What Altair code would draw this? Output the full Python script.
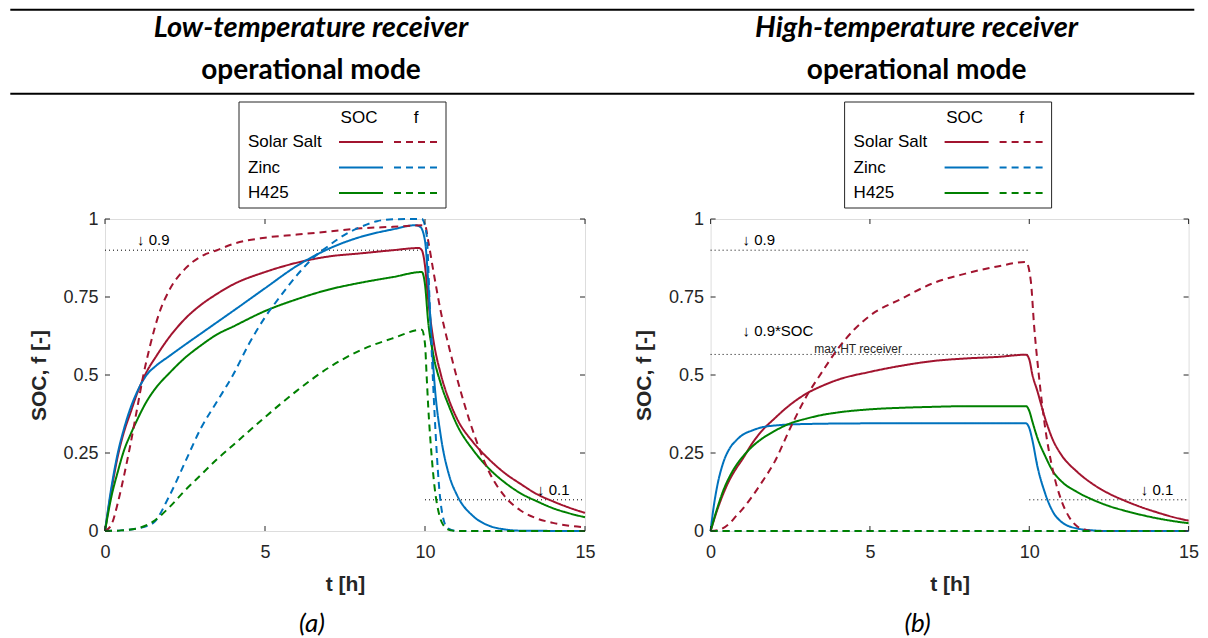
import altair as alt
import pandas as pd

# ---------------- data ----------------
SERIES = ["Solar Salt", "Zinc", "H425"]
COLORS = ["#A2142F", "#0072BD", "#008000"]
X_TICKS = [0, 5, 10, 15]
Y_TICKS = [0, 0.25, 0.5, 0.75, 1]

# Low-temperature receiver (a)
lt_ss_soc_t = [0, 0.2, 0.4, 0.6, 0.8, 1.0, 1.3, 1.6, 2.0, 2.5, 3.0, 3.5, 4.0, 5.0, 6.0, 7.0, 8.0, 9.0, 9.8, 9.9, 10.0, 10.1, 10.25, 10.5, 10.75, 11.0, 11.5, 12.0, 12.5, 13.0, 13.5, 14.0, 14.5, 15.0]
lt_ss_soc_v = [0, 0.13, 0.24, 0.32, 0.38, 0.44, 0.51, 0.56, 0.62, 0.68, 0.725, 0.76, 0.79, 0.83, 0.86, 0.88, 0.89, 0.9, 0.907, 0.9, 0.85, 0.74, 0.62, 0.5, 0.42, 0.36, 0.285, 0.23, 0.185, 0.15, 0.118, 0.095, 0.075, 0.058]

lt_zn_soc_t = [0, 0.2, 0.4, 0.6, 0.8, 1.0, 1.3, 1.6, 2.0, 2.5, 3.0, 3.5, 4.0, 5.0, 6.0, 7.0, 8.0, 9.0, 9.7, 9.85, 10.0, 10.1, 10.2, 10.3, 10.5, 10.75, 11.0, 11.5, 12.0, 12.5, 13.0, 15.0]
lt_zn_soc_v = [0, 0.14, 0.25, 0.33, 0.395, 0.445, 0.5, 0.53, 0.56, 0.597, 0.633, 0.669, 0.705, 0.778, 0.85, 0.905, 0.943, 0.967, 0.98, 0.975, 0.93, 0.8, 0.62, 0.47, 0.3, 0.18, 0.115, 0.048, 0.017, 0.005, 0.001, 0]

lt_h4_soc_t = [0, 0.2, 0.4, 0.6, 0.8, 1.0, 1.3, 1.6, 2.0, 2.5, 3.0, 3.5, 4.0, 5.0, 6.0, 7.0, 8.0, 9.0, 9.9, 10.0, 10.1, 10.25, 10.5, 10.75, 11.0, 11.5, 12.0, 12.5, 13.0, 13.5, 14.0, 14.5, 15.0]
lt_h4_soc_v = [0, 0.11, 0.19, 0.26, 0.31, 0.355, 0.415, 0.46, 0.505, 0.555, 0.595, 0.63, 0.655, 0.705, 0.743, 0.774, 0.796, 0.814, 0.83, 0.79, 0.67, 0.57, 0.47, 0.4, 0.34, 0.26, 0.2, 0.155, 0.12, 0.095, 0.073, 0.057, 0.044]

lt_ss_f_t = [0, 0.2, 0.4, 0.6, 0.8, 1.0, 1.2, 1.4, 1.7, 2.0, 2.5, 3.0, 3.5, 4.0, 5.0, 6.0, 7.0, 8.0, 9.0, 10.0, 10.1, 10.25, 10.5, 10.75, 11.0, 11.5, 12.0, 12.5, 13.0, 13.5, 14.0, 14.5, 15.0]
lt_ss_f_v = [0, 0.02, 0.09, 0.18, 0.28, 0.39, 0.5, 0.59, 0.7, 0.77, 0.84, 0.88, 0.9, 0.92, 0.94, 0.95, 0.96, 0.97, 0.975, 0.98, 0.93, 0.84, 0.7, 0.59, 0.49, 0.32, 0.19, 0.11, 0.065, 0.04, 0.026, 0.017, 0.012]

lt_zn_f_t = [0, 0.5, 1.0, 1.5, 2.0, 2.5, 3.0, 3.5, 4.0, 4.5, 5.0, 5.5, 6.0, 6.5, 7.0, 7.5, 8.0, 8.5, 9.0, 9.9, 10.05, 10.15, 10.25, 10.35, 10.45, 10.55, 10.7, 11.0, 15.0]
lt_zn_f_v = [0, 0.002, 0.008, 0.025, 0.11, 0.22, 0.33, 0.415, 0.5, 0.6, 0.685, 0.755, 0.82, 0.875, 0.915, 0.95, 0.975, 0.993, 0.999, 1.0, 0.95, 0.72, 0.48, 0.28, 0.13, 0.05, 0.01, 0, 0]

lt_h4_f_t = [0, 0.5, 1.0, 1.5, 2.0, 2.5, 3.0, 3.5, 4.0, 5.0, 6.0, 7.0, 8.0, 9.0, 9.9, 10.0, 10.05, 10.1, 10.2, 10.3, 10.45, 10.6, 10.8, 11.0, 15.0]
lt_h4_f_v = [0, 0.002, 0.008, 0.03, 0.075, 0.13, 0.18, 0.23, 0.275, 0.365, 0.45, 0.524, 0.58, 0.618, 0.645, 0.6, 0.5, 0.4, 0.25, 0.14, 0.05, 0.015, 0.002, 0, 0]

# High-temperature receiver (b)
ht_ss_soc_t = [0, 0.2, 0.4, 0.6, 0.8, 1.0, 1.3, 1.6, 2.0, 2.5, 3.0, 3.5, 4.0, 5.0, 6.0, 7.0, 8.0, 9.0, 9.9, 10.0, 10.1, 10.25, 10.5, 10.75, 11.0, 11.5, 12.0, 12.5, 13.0, 13.5, 14.0, 14.5, 15.0]
ht_ss_soc_v = [0, 0.065, 0.12, 0.165, 0.2, 0.23, 0.28, 0.32, 0.36, 0.405, 0.44, 0.465, 0.485, 0.51, 0.53, 0.545, 0.553, 0.558, 0.565, 0.55, 0.5, 0.45, 0.36, 0.29, 0.245, 0.19, 0.15, 0.12, 0.097, 0.077, 0.06, 0.045, 0.033]

ht_zn_soc_t = [0, 0.1, 0.2, 0.4, 0.6, 0.8, 1.0, 1.3, 1.6, 2.0, 3.0, 5.0, 9.9, 10.0, 10.1, 10.25, 10.5, 10.75, 11.0, 11.5, 12.0, 12.5, 15.0]
ht_zn_soc_v = [0, 0.08, 0.14, 0.22, 0.265, 0.29, 0.308, 0.322, 0.332, 0.338, 0.343, 0.345, 0.345, 0.33, 0.29, 0.21, 0.12, 0.06, 0.03, 0.008, 0.002, 0, 0]

ht_h4_soc_t = [0, 0.2, 0.4, 0.6, 0.8, 1.0, 1.3, 1.6, 2.0, 2.5, 3.0, 3.5, 4.0, 5.0, 6.0, 7.0, 8.0, 9.9, 10.0, 10.1, 10.25, 10.5, 10.75, 11.0, 11.5, 12.0, 12.5, 13.0, 13.5, 14.0, 14.5, 15.0]
ht_h4_soc_v = [0, 0.07, 0.13, 0.175, 0.21, 0.237, 0.27, 0.295, 0.32, 0.345, 0.36, 0.372, 0.38, 0.39, 0.395, 0.398, 0.4, 0.4, 0.385, 0.35, 0.3, 0.24, 0.19, 0.16, 0.125, 0.1, 0.08, 0.065, 0.052, 0.041, 0.032, 0.025]

ht_ss_f_t = [0, 0.3, 0.6, 0.8, 1.0, 1.3, 1.6, 2.0, 2.5, 3.0, 3.5, 4.0, 4.5, 5.0, 6.0, 7.0, 8.0, 9.0, 9.9, 10.05, 10.15, 10.3, 10.5, 10.75, 11.0, 11.25, 11.5, 11.75, 12.0, 15.0]
ht_ss_f_v = [0, 0.005, 0.025, 0.048, 0.07, 0.11, 0.155, 0.22, 0.33, 0.43, 0.51, 0.585, 0.645, 0.69, 0.745, 0.795, 0.825, 0.848, 0.862, 0.8, 0.66, 0.5, 0.33, 0.19, 0.1, 0.045, 0.015, 0.004, 0, 0]

ht_zn_f_t = [0, 15]
ht_zn_f_v = [0, 0]
ht_h4_f_t = [0, 15]
ht_h4_f_v = [0, 0]

HT_SOC_LIMIT = 0.566  # 0.9*SOC max,HT receiver

PANELS = {
    "a": [
        ("Solar Salt", "SOC", lt_ss_soc_t, lt_ss_soc_v),
        ("Zinc", "SOC", lt_zn_soc_t, lt_zn_soc_v),
        ("H425", "SOC", lt_h4_soc_t, lt_h4_soc_v),
        ("Solar Salt", "f", lt_ss_f_t, lt_ss_f_v),
        ("Zinc", "f", lt_zn_f_t, lt_zn_f_v),
        ("H425", "f", lt_h4_f_t, lt_h4_f_v),
    ],
    "b": [
        ("Solar Salt", "SOC", ht_ss_soc_t, ht_ss_soc_v),
        ("Zinc", "SOC", ht_zn_soc_t, ht_zn_soc_v),
        ("H425", "SOC", ht_h4_soc_t, ht_h4_soc_v),
        ("Solar Salt", "f", ht_ss_f_t, ht_ss_f_v),
        ("Zinc", "f", ht_zn_f_t, ht_zn_f_v),
        ("H425", "f", ht_h4_f_t, ht_h4_f_v),
    ],
}

# ---------------- styling ----------------
H = 312
AXC = "#262626"
SANS = "Liberation Sans"
HEAD = "Lato"
ONE = pd.DataFrame({"k": [0]})


def series_df(key):
    rows = []
    for i, (s, var, ts, vs) in enumerate(PANELS[key]):
        for t, v in zip(ts, vs):
            rows.append({"series": s, "var": var, "key": f"{i}", "t": t, "v": v})
    return pd.DataFrame(rows)


def txt(s, x, y, size=15, weight="normal", style="normal", font=SANS, align="left", color="black"):
    return alt.Chart(ONE).mark_text(
        text=s, fontSize=size, fontWeight=weight, fontStyle=style, font=font,
        align=align, baseline="middle", color=color,
    ).encode(x=alt.value(x), y=alt.value(y))


def hline(x1, x2, y, width=1, dash=None, color="black"):
    kw = dict(strokeWidth=width, color=color)
    if dash:
        kw["strokeDash"] = dash
    return alt.Chart(ONE).mark_rule(**kw).encode(x=alt.value(x1), x2=alt.value(x2), y=alt.value(y))


def panel(key, W, title1, caption, first):
    df = series_df(key)
    xs = alt.Scale(domain=[0, 15], nice=False)
    ys = alt.Scale(domain=[0, 1], nice=False)
    xax = alt.Axis(values=X_TICKS, format=".2~f", ticks=False, domain=False, grid=False,
                   labelFont=SANS, labelFontSize=18, labelColor=AXC, labelBaseline="middle",
                   labelPadding=21, labelFlush=False,
                   title="t [h]", titleFont=SANS, titleFontSize=21, titleFontWeight="bold",
                   titleColor=AXC, titleX=W / 2, titleY=53, titleBaseline="middle")
    yax = alt.Axis(values=Y_TICKS, format=".2~f", ticks=False, domain=False, grid=False,
                   labelFont=SANS, labelFontSize=18, labelColor=AXC, labelPadding=7,
                   labelFlush=False,
                   title="SOC, f [-]", titleFont=SANS, titleFontSize=21, titleFontWeight="bold",
                   titleColor=AXC, titleX=-66, titleY=H / 2, titleAngle=270,
                   titleBaseline="middle")

    lines = alt.Chart(df).mark_line(strokeWidth=2, interpolate="monotone").encode(
        x=alt.X("t:Q", scale=xs, axis=xax),
        y=alt.Y("v:Q", scale=ys, axis=yax),
        color=alt.Color("series:N", scale=alt.Scale(domain=SERIES, range=COLORS), legend=None),
        strokeDash=alt.StrokeDash("var:N", scale=alt.Scale(domain=["SOC", "f"], range=[[1, 0], [7, 5]]), legend=None),
        detail="key:N",
    )

    # reference lines (dotted)
    if key == "a":
        ref = pd.DataFrame({"t1": [0, 10], "t2": [9.9, 15], "v": [0.9, 0.1]})
    else:
        ref = pd.DataFrame({"t1": [0, 0, 10], "t2": [10, 10, 15], "v": [0.9, HT_SOC_LIMIT, 0.1]})
    refs = alt.Chart(ref).mark_rule(strokeWidth=1, strokeDash=[1, 3], color="black").encode(
        x=alt.X("t1:Q", scale=xs), x2="t2:Q", y=alt.Y("v:Q", scale=ys))

    # annotations
    ann = pd.DataFrame({"t": [1.0, 13.5], "v": [0.9, 0.1], "s": ["\u2193 0.9", "\u2193 0.1"]})
    anns = alt.Chart(ann).mark_text(align="left", baseline="middle", font=SANS, fontSize=15,
                                    color="black", dy=-10).encode(
        x=alt.X("t:Q", scale=xs), y=alt.Y("v:Q", scale=ys), text="s:N")
    layers_extra = []
    if key == "b":
        lim = pd.DataFrame({"t": [1.0], "v": [HT_SOC_LIMIT], "s": ["\u2193 0.9*SOC"]})
        layers_extra.append(alt.Chart(lim).mark_text(align="left", baseline="middle", font=SANS,
                                                     fontSize=15, color="black", dy=-23).encode(
            x=alt.X("t:Q", scale=xs), y=alt.Y("v:Q", scale=ys), text="s:N"))
        sub = pd.DataFrame({"t": [3.25], "v": [HT_SOC_LIMIT], "s": ["max,HT receiver"]})
        layers_extra.append(alt.Chart(sub).mark_text(align="left", baseline="middle", font=SANS,
                                                     fontSize=12, color=AXC, dy=-5).encode(
            x=alt.X("t:Q", scale=xs), y=alt.Y("v:Q", scale=ys), text="s:N"))

    # inward ticks on all four sides
    xt = pd.DataFrame({"t": X_TICKS})
    yt = pd.DataFrame({"v": Y_TICKS})
    tk = dict(color=AXC, strokeWidth=1)
    ticks = [
        alt.Chart(xt).mark_rule(**tk).encode(x=alt.X("t:Q", scale=xs), y=alt.value(H), y2=alt.value(H - 5)),
        alt.Chart(xt).mark_rule(**tk).encode(x=alt.X("t:Q", scale=xs), y=alt.value(0), y2=alt.value(5)),
        alt.Chart(yt).mark_rule(**tk).encode(y=alt.Y("v:Q", scale=ys), x=alt.value(0), x2=alt.value(5)),
        alt.Chart(yt).mark_rule(**tk).encode(y=alt.Y("v:Q", scale=ys), x=alt.value(W), x2=alt.value(W - 5)),
    ]

    # custom legend box (SOC / f columns)
    leg = [
        alt.Chart(ONE).mark_rect(fill="white", stroke=AXC, strokeWidth=1).encode(
            x=alt.value(134), x2=alt.value(341), y=alt.value(-117), y2=alt.value(-11)),
        txt("SOC", 254, -101, size=17, align="center"),
        txt("f", 311, -101, size=17, align="center"),
    ]
    for i, (s, c) in enumerate(zip(SERIES, COLORS)):
        yy = -77 + 25.5 * i
        leg.append(txt(s, 143, yy, size=17))
        leg.append(hline(234, 278, yy, width=2, color=c))
        leg.append(hline(289, 335, yy, width=2, color=c, dash=[7, 5]))

    # header and caption
    head = [
        txt(title1, 206, -191, size=29, weight="bold", style="italic", font=HEAD, align="center"),
        txt("operational mode", 206, -148, size=28, weight="bold", font=HEAD, align="center"),
        txt(caption, 207, 405, size=26, style="italic", font=HEAD, align="center"),
    ]
    if first:
        head.append(hline(-94.7, 1089.3, -209.3, width=2))
        head.append(hline(-94.7, 1089.3, -125.3, width=2))

    return alt.layer(refs, lines, anns, *layers_extra, *ticks, *leg, *head).properties(width=W, height=H)


left = panel("a", 480, "Low-temperature receiver", "(a)", True)
right = panel("b", 478, "High-temperature receiver", "(b)", False)

chart = alt.hconcat(left, right, spacing=125.6, bounds="flush", padding=0).configure_view(
    stroke=AXC, strokeWidth=1
).configure(background="white")

chart.save("out.html", embed_options={"renderer": "svg", "actions": False})
